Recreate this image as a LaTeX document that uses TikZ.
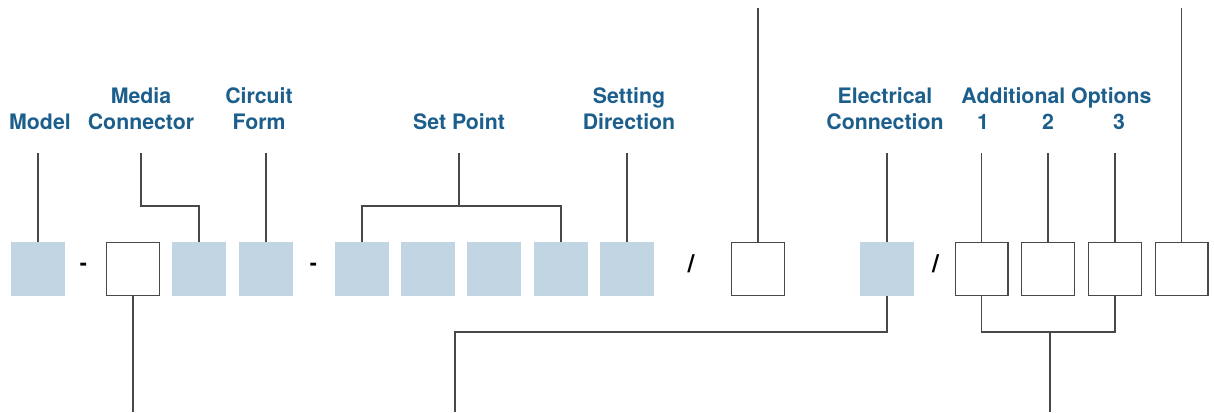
\documentclass[tikz,border=0pt]{standalone}
\usepackage{fontspec}
\setmainfont{TeX Gyre Heros}
\usetikzlibrary{positioning,calc}
\definecolor{labelblue}{RGB}{28,94,140}
\definecolor{fieldblue}{RGB}{194,213,226}
\definecolor{leadgrey}{RGB}{72,72,72}

\begin{document}
\begin{tikzpicture}[x=1pt,y=-1pt,
		fixed/.style={rectangle,fill=fieldblue,minimum size=54pt,inner sep=0pt,outer sep=0pt},
		option/.style={rectangle,draw=leadgrey,line width=1.3pt,fill=white,minimum size=52.7pt,inner sep=0pt,outer sep=0pt},
		caption/.style={font=\fontsize{21.3}{26.5}\selectfont\bfseries,text=labelblue,align=center,inner sep=0pt},
		divider/.style={font=\fontsize{21.3}{26}\selectfont\bfseries,inner sep=0pt},
		slash/.style={font=\fontsize{25}{30}\selectfont\bfseries,inner sep=0pt},
		lead/.style={draw=leadgrey,line width=1.3pt}]
				\useasboundingbox (0,0) rectangle (1214,412);
				% code fields
				\node[fixed] (b1) at (38,269) {};
				\node[divider] (d1) at (83.5,267) {-};
				\node[option] (b2) at (133,269) {};
				\node[fixed] (b3) at (199,269) {};
				\node[fixed] (b4) at (266,269) {};
				\node[divider] (d2) at (313.5,267) {-};
				\node[fixed] (b5) at (362,269) {};
				\node[fixed] (b6) at (428,269) {};
				\node[fixed] (b7) at (494,269) {};
				\node[fixed] (b8) at (561,269) {};
				\node[fixed] (b9) at (627,269) {};
				\node[slash] (s1) at (691,264) {/};
				\node[option] (b10) at (758,269) {};
				\node[fixed] (b11) at (887,269) {};
				\node[slash] (s2) at (935.5,264) {/};
				\node[option] (b12) at (981.5,269) {};
				\node[option] (b13) at (1048,269) {};
				\node[option] (b14) at (1115,269) {};
				\node[option] (b15) at (1181.5,269) {};
				% captions
				\node[caption,anchor=base] (lModel) at (40,129.5) {Model};
				\node[caption,anchor=south] (lMedia) at (141,130) {Media\\Connector};
				\node[caption,anchor=south] (lCircuit) at (259,130) {Circuit\\Form};
				\node[caption,anchor=base] (lSet) at (459,129.5) {Set Point};
				\node[caption,anchor=south] (lDir) at (629,130) {Setting\\Direction};
				\node[caption,anchor=south] (lElec) at (885,130) {Electrical\\Connection};
				\node[caption,anchor=base] (lOpt) at (1056.5,103) {Additional Options};
				\node[caption,anchor=base] (lOne) at (983,129.5) {1};
				\node[caption,anchor=base] (lTwo) at (1048,129.5) {2};
				\node[caption,anchor=base] (lThree) at (1119,129.5) {3};
				% levels of the leads
				\coordinate (ceil) at (0,8);
				\coordinate (top) at (0,153);
				\coordinate (mid) at (0,206);
				\coordinate (low) at (0,332);
				\coordinate (edge) at (0,412);
				% leads up
				\draw[lead] (b1.north) -- (b1.north |- top);
				\draw[lead] (b3.north) |- (lMedia.south |- mid) -- (lMedia.south |- top);
				\draw[lead] (b4.north) -- (b4.north |- top);
				\draw[lead] (b5.north) |- (b8.north |- mid) -- (b8.north);
				\draw[lead] (lSet.base |- mid) -- (lSet.base |- top);
				\draw[lead] (b9.north) -- (b9.north |- top);
				\draw[lead] (b10.north) -- (b10.north |- ceil);
				\draw[lead] (b11.north) -- (b11.north |- top);
				\draw[lead] (b12.north) -- (b12.north |- top);
				\draw[lead] (b13.north) -- (b13.north |- top);
				\draw[lead] (b14.north) -- (b14.north |- top);
				\draw[lead] (b15.north) -- (b15.north |- ceil);
				% leads down
				\draw[lead] (b2.south) -- (b2.south |- edge);
				\draw[lead] (b11.south) |- (b6.south east |- low) -- (b6.south east |- edge);
				\draw[lead] (b12.south) |- (b14.south |- low) -- (b14.south);
				\draw[lead] ($(b13.south |- low)+(2,0)$) -- ($(b13.south |- edge)+(2,0)$);
\end{tikzpicture}
\end{document}
